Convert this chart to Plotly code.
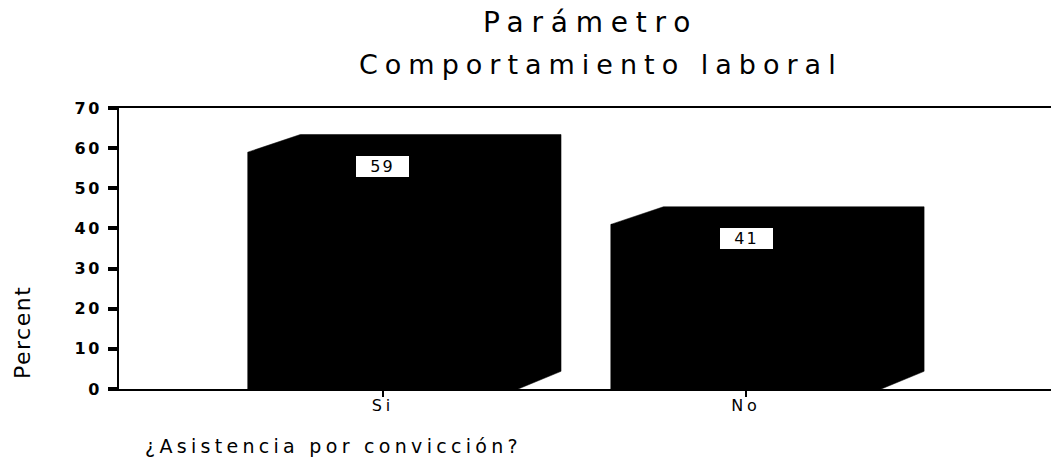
import plotly.graph_objects as go

# ---- data ----
categories = ["Si", "No"]
percent = [59, 41]
y_tick_values = [0, 10, 20, 30, 40, 50, 60, 70]
title_line1 = "Parámetro"
title_line2 = "Comportamiento laboral"
x_title = "¿Asistencia por convicción?"
y_title = "Percent"

FONT = "DejaVu Sans"


def spaced(text, ls):
    return f'<span style="letter-spacing:{ls}px">{text}</span>'


# plot-area geometry (pixels) used to convert paper positions
L, R, T, B = 119, 1051, 108, 389
PW, PH = R - L, B - T


def px_x(p):
    return (p - L) / PW


def px_y(p):
    return (B - p) / PH


x_pos = list(range(len(categories)))
BAR_W = 0.745
DXL, DXR, DY = 0.145, 0.118, 4.4

fig = go.Figure()
fig.add_trace(go.Bar(
    x=x_pos, y=percent, width=BAR_W,
    marker=dict(color="black", line=dict(width=0)),
    hoverinfo="skip", showlegend=False,
))
for xi, v in zip(x_pos, percent):
    x0, x1 = xi - BAR_W / 2, xi + BAR_W / 2
    fig.add_trace(go.Scatter(
        x=[x0, x0, x0 + DXL, x1 + DXR, x1 + DXR, x1, x0],
        y=[0, v, v + DY, v + DY, DY, 0, 0],
        fill="toself", fillcolor="black", mode="lines",
        line=dict(color="black", width=0.5),
        hoverinfo="skip", showlegend=False,
    ))

annotations = []
# value labels
for xi, v in zip(x_pos, percent):
    annotations.append(dict(
        x=xi, y=v, xref="x", yref="y", text=spaced(str(v), 2),
        showarrow=False, yanchor="top", xanchor="center", yshift=-4,
        bgcolor="white", width=49, height=17, borderpad=2, borderwidth=0,
        font=dict(family=FONT, size=16, color="black"),
    ))

annotations += [
    dict(x=px_x(590), y=px_y(22.5), xref="paper", yref="paper",
         text=spaced(title_line1, 7.8), showarrow=False,
         xanchor="center", yanchor="middle",
         font=dict(family=FONT, size=28, color="black")),
    dict(x=px_x(601), y=px_y(64), xref="paper", yref="paper",
         text=spaced(title_line2, 7), showarrow=False,
         xanchor="center", yanchor="middle",
         font=dict(family=FONT, size=27, color="black")),
    dict(x=px_x(22), y=px_y(333), xref="paper", yref="paper",
         text=spaced(y_title, 1.5), showarrow=False, textangle=-90,
         xanchor="center", yanchor="middle",
         font=dict(family=FONT, size=22, color="black")),
    dict(x=px_x(143), y=px_y(446), xref="paper", yref="paper",
         text=spaced(x_title, 4.3), showarrow=False,
         xanchor="left", yanchor="middle",
         font=dict(family=FONT, size=19, color="black")),
]

fig.update_layout(
    width=1051, height=463,
    margin=dict(l=L, r=1051 - R, t=T, b=463 - B, pad=0),
    paper_bgcolor="white", plot_bgcolor="white",
    showlegend=False, bargap=0,
    annotations=annotations,
    xaxis=dict(
        range=[-0.727, 1.840], tickmode="array", tickvals=x_pos,
        ticktext=[spaced(c, 4) for c in categories],
        showline=True, linecolor="black", linewidth=2, mirror=True,
        ticks="outside", ticklen=6, tickwidth=2, tickcolor="black",
        showgrid=False, zeroline=False, ticklabelstandoff=-5,
        tickfont=dict(family=FONT, size=16, color="black"),
        fixedrange=True,
    ),
    yaxis=dict(
        range=[0, 70], tickmode="array", tickvals=y_tick_values,
        ticktext=[spaced(str(t), 2.5) for t in y_tick_values],
        showline=True, linecolor="black", linewidth=2,
        ticks="outside", ticklen=9, tickwidth=4, tickcolor="black",
        showgrid=False, zeroline=False, ticklabelstandoff=3,
        tickfont=dict(family=FONT, size=16, color="black", weight="bold"),
        fixedrange=True,
    ),
)

fig.write_html("out.html", config={"displayModeBar": False})
